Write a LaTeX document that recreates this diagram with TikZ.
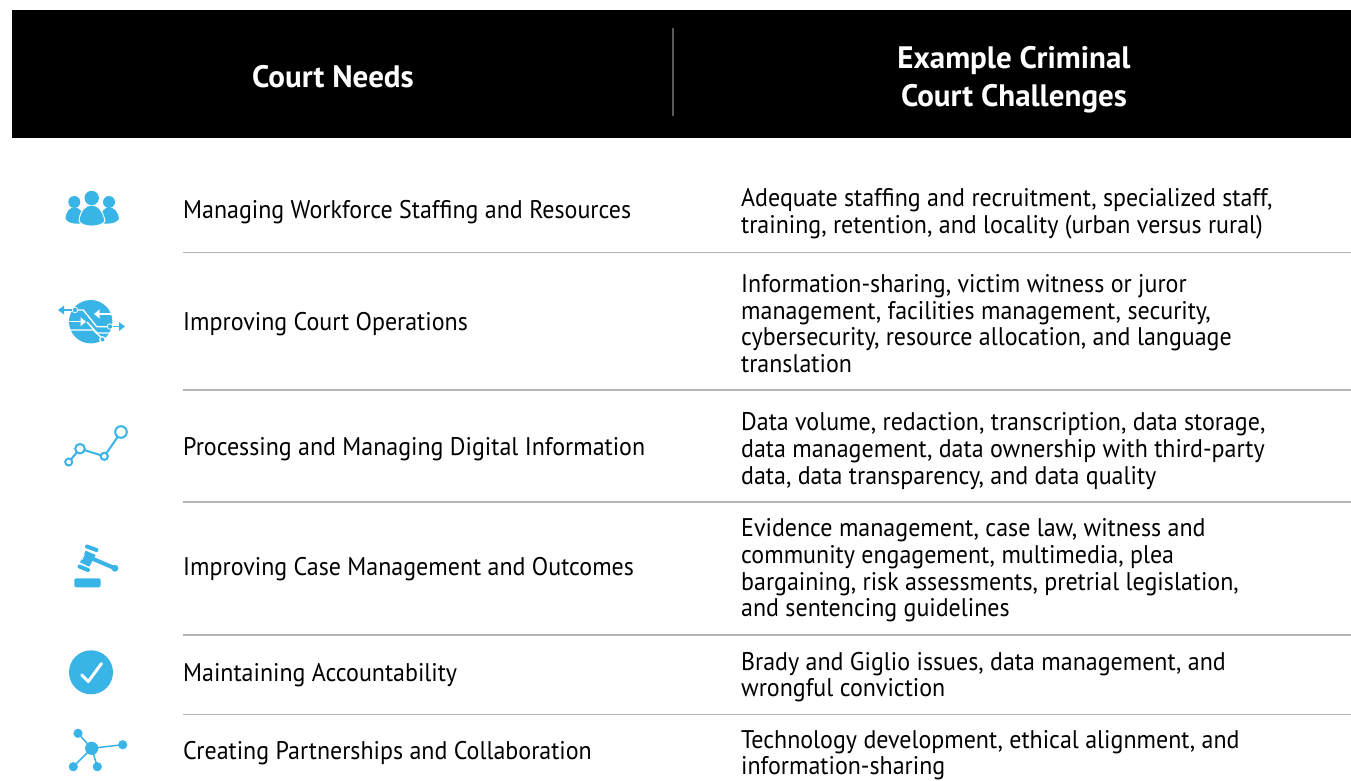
\documentclass[tikz,border=0pt]{standalone}
\usepackage{fontspec}
\setmainfont[FakeStretch=0.94]{PT Sans}
\newfontfamily\hdfont{PT Sans}
\definecolor{iconblue}{HTML}{39B4E7}
\definecolor{rulegray}{HTML}{B4B4B4}
\begin{document}
\begin{tikzpicture}[x=1pt,y=-1pt,
  head/.style={text=white,font=\hdfont\fontsize{31}{38.5}\selectfont\bfseries,align=center,inner sep=0pt},
  need/.style={anchor=west,inner sep=0pt,font=\fontsize{25.5}{26.6}\selectfont},
  chall/.style={anchor=west,inner sep=0pt,align=left,font=\fontsize{25.5}{26.6}\selectfont},
  sep/.style={rulegray,line width=1.1pt},
  ic/.style={fill=iconblue,draw=none},
  icl/.style={draw=iconblue,line width=2pt,line cap=round},
  wl/.style={draw=white,line width=1.4pt}]
\useasboundingbox (0,0) rectangle (1351,780);
\fill[white] (0,0) rectangle (1351,780);
\fill[black] (12,10) rectangle (1351,138);
\draw[line width=2pt,draw=black!65] (673,28) -- (673,116);
\node[head] (h1) at (333,76.5) {Court Needs};
\node[head] (h2) at (1014,79.5) {Example Criminal\\Court Challenges};

\node[need] (n1) at (183,212) {Managing Workforce Staffing and Resources};
\node[need] (n2) at (183,324) {Improving Court Operations};
\node[need] (n3) at (183,449) {Processing and Managing Digital Information};
\node[need] (n4) at (183,569) {Improving Case Management and Outcomes};
\node[need] (n5) at (183,675) {Maintaining Accountability};
\node[need] (n6) at (183,753) {Creating Partnerships and Collaboration};

\node[chall] (c1) at (741,213.5) {Adequate staffing and recruitment, specialized staff,\\training, retention, and locality (urban versus rural)};
\node[chall] (c2) at (741,323.5) {Information-sharing, victim witness or juror\\management, facilities management, security,\\cybersecurity, resource allocation, and language\\translation};
\node[chall] (c3) at (741,451) {Data volume, redaction, transcription, data storage,\\data management, data ownership with third-party\\data, data transparency, and data quality};
\node[chall] (c4) at (741,570.5) {Evidence management, case law, witness and\\community engagement, multimedia, plea\\bargaining, risk assessments, pretrial legislation,\\and sentencing guidelines};
\node[chall] (c5) at (741,677) {Brady and Giglio issues, data management, and\\wrongful conviction};
\node[chall] (c6) at (741,755) {Technology development, ethical alignment, and\\information-sharing};

\foreach \yy in {252.5,390,502,635,714.5} \draw[sep] (183,\yy) -- (1351,\yy);

% people icon
\fill[ic] (74.3,202) circle (6);
\fill[ic] (109,202) circle (6);
\fill[ic] (65.5,219) .. controls (66,211) and (70,207.5) .. (74.3,207.5) .. controls (79,207.5) and (83,211) .. (84,219) -- (84,223.5) .. controls (77,224) and (68,224) .. (65.5,219) -- cycle;
\fill[ic] (119,219) .. controls (118,211) and (114,207.5) .. (109,207.5) .. controls (105,207.5) and (101,211) .. (100,219) -- (100,223.5) .. controls (107,224) and (116,224) .. (119,219) -- cycle;
\fill[white] (91.7,198) circle (8);
\draw[fill=iconblue,draw=white,line width=1pt] (79,221) .. controls (80,211) and (85,205) .. (91.7,205) .. controls (98,205) and (103,211) .. (105,221) .. controls (102,227.5) and (82,228) .. (79,221) -- cycle;
\fill[ic] (91.7,198) circle (7.2);

% operations icon
\fill[ic] (90.7,321.7) circle (21.7);
\draw[wl] (70,310) -- (83.3,310) -- (96.7,326.7) -- (111,326.7);
\draw[wl] (68,321.7) -- (82,321.7);
\draw[wl] (68,330) -- (93.3,330) -- (101.7,338);
\draw[wl] (96,314) -- (112,314);
\draw[wl] (87,322) -- (97,333) -- (111,333);
\fill[white] (86,321.7) -- (80.5,317.2) -- (80.5,326.2) -- cycle;
\fill[white] (94,314) -- (99.5,309.5) -- (99.5,318.5) -- cycle;
\draw[draw=iconblue,line width=1.7pt] (62,310) -- (74,310);
\fill[ic] (58,310) -- (64,305.5) -- (64,314.5) -- cycle;
\fill[white] (75,310) circle (3.2);
\fill[ic] (75,310) circle (2.2);
\draw[draw=iconblue,line width=1.7pt] (110,326.5) -- (121,326.5);
\fill[ic] (125,326.5) -- (119,322) -- (119,331) -- cycle;
\fill[white] (110,326.5) circle (3.2);
\fill[ic] (110,326.5) circle (2.2);
\fill[white] (102.5,339.5) circle (3.4);
\fill[ic] (102.5,339.5) circle (2);

% data line icon
\path (68.7,462) coordinate (g1) (80,448.7) coordinate (g2) (104.3,456.3) coordinate (g3) (121,432) coordinate (g4);
\draw[icl] (g1) -- (g2) -- (g3) -- (g4);
\draw[icl,fill=white] (g1) circle (3.5);
\draw[icl,fill=white] (g2) circle (4.8);
\draw[icl,fill=white] (g3) circle (3.6);
\draw[icl,fill=white] (g4) circle (5.8);

% gavel icon
\fill[ic,rounded corners=2pt] (74.3,587.3) -- (74.3,578.3) -- (100.7,578.3) -- (100.7,587.3) -- cycle;
\draw[iconblue,line width=4pt,line cap=round] (87,546.5) -- (96.5,550);
\draw[iconblue,line width=4pt,line cap=round] (79.5,566.5) -- (88,570);
\fill[ic] (85.7,550.7) -- (95.7,555) -- (89.3,566.7) -- (80,562.3) -- cycle;
\draw[white,line width=1pt] (84.3,554.3) -- (81.9,559.8);
\draw[iconblue,line width=4pt] (92,558.5) -- (115,568.3);
\fill[ic] (115,568.3) circle (3.4);

% check icon
\fill[ic] (91,672.3) circle (22);
\draw[white,line width=3pt,line cap=round,line join=round] (81.7,675) -- (88.3,681.5) -- (101.5,663.5);

% network icon
\path (91.7,748.3) coordinate (k0) (78,733.3) coordinate (k1) (122.7,744.7) coordinate (k2) (73.3,766.7) coordinate (k3) (97.3,766.7) coordinate (k4);
\draw[iconblue,line width=1.5pt] (k0) -- (k1) (k0) -- (k2) (k0) -- (k3) (k0) -- (k4);
\fill[ic] (k0) circle (6.6);
\foreach \k in {k1,k2,k3,k4} \fill[ic] (\k) circle (4.6);
\end{tikzpicture}
\end{document}
